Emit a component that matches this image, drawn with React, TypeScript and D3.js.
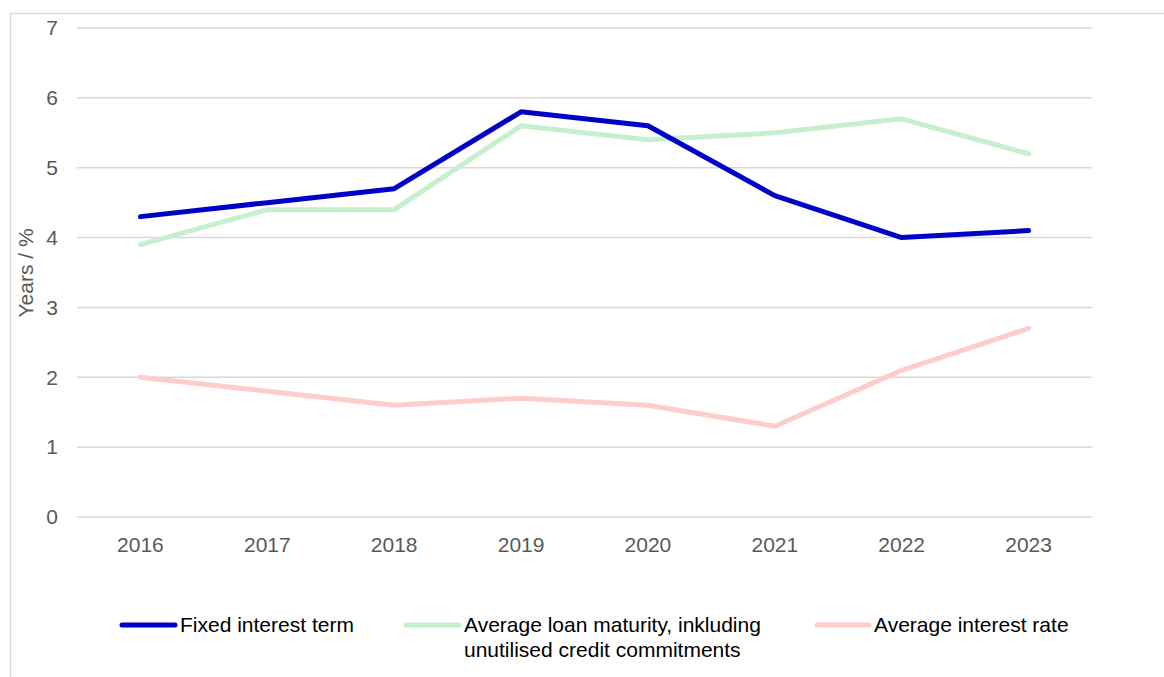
import React from "react";
import * as d3 from "d3";

const years = ["2016", "2017", "2018", "2019", "2020", "2021", "2022", "2023"];
const fixedTerm = [4.3, 4.5, 4.7, 5.8, 5.6, 4.6, 4.0, 4.1];
const loanMaturity = [3.9, 4.4, 4.4, 5.6, 5.4, 5.5, 5.7, 5.2];
const interestRate = [2.0, 1.8, 1.6, 1.7, 1.6, 1.3, 2.1, 2.7];
const yTicks = [0, 1, 2, 3, 4, 5, 6, 7];

const W = 1164;
const H = 677;
const FONT = "'Liberation Sans', Arial, sans-serif";

export default function App() {
  const x = d3.scaleBand<string>().domain(years).range([77, 1092]);
  const y = d3.scaleLinear().domain([0, 7]).range([517, 28]);
  const cx = (d: string) => (x(d) ?? 0) + x.bandwidth() / 2;

  const line = d3
    .line<number>()
    .x((_, i) => cx(years[i]))
    .y((v) => y(v));

  const series = [
    { values: loanMaturity, color: "#C6EFCE" },
    { values: interestRate, color: "#FFCCCC" },
    { values: fixedTerm, color: "#0000C8" },
  ];

  return (
    <svg
      width={W}
      height={H}
      style={{ position: "absolute", left: 0, top: 0, background: "#fff" }}
    >
      <rect x={10.5} y={13.5} width={1170} height={700} fill="#fff" stroke="#d9d9d9" strokeWidth={1.5} />
      {yTicks.map((t) => (
        <g key={t}>
          <line x1={77} x2={1092} y1={y(t)} y2={y(t)} stroke="#d9d9d9" strokeWidth={1.5} />
          <text x={58} y={y(t)} dy="0.35em" textAnchor="end" fontFamily={FONT} fontSize={21} fill="#595959">
            {t}
          </text>
        </g>
      ))}
      {years.map((yr) => (
        <text key={yr} x={cx(yr)} y={552} textAnchor="middle" fontFamily={FONT} fontSize={21} fill="#595959">
          {yr}
        </text>
      ))}
      <text
        transform={`translate(33,273) rotate(-90)`}
        textAnchor="middle"
        fontFamily={FONT}
        fontSize={21}
        fill="#595959"
      >
        Years / %
      </text>
      {series.map((s, i) => (
        <path
          key={i}
          d={line(s.values) ?? ""}
          fill="none"
          stroke={s.color}
          strokeWidth={5}
          strokeLinejoin="round"
          strokeLinecap="round"
        />
      ))}
      <g fontFamily={FONT} fontSize={21} fill="#000">
        <line x1={122} x2={175} y1={625} y2={625} stroke="#0000C8" strokeWidth={5} strokeLinecap="round" />
        <text x={180} y={632}>Fixed interest term</text>
        <line x1={406} x2={459} y1={625} y2={625} stroke="#C6EFCE" strokeWidth={5} strokeLinecap="round" />
        <text x={464} y={632}>Average loan maturity, inkluding</text>
        <text x={464} y={657}>unutilised credit commitments</text>
        <line x1={817} x2={869} y1={625} y2={625} stroke="#FFCCCC" strokeWidth={5} strokeLinecap="round" />
        <text x={874} y={632}>Average interest rate</text>
      </g>
    </svg>
  );
}
